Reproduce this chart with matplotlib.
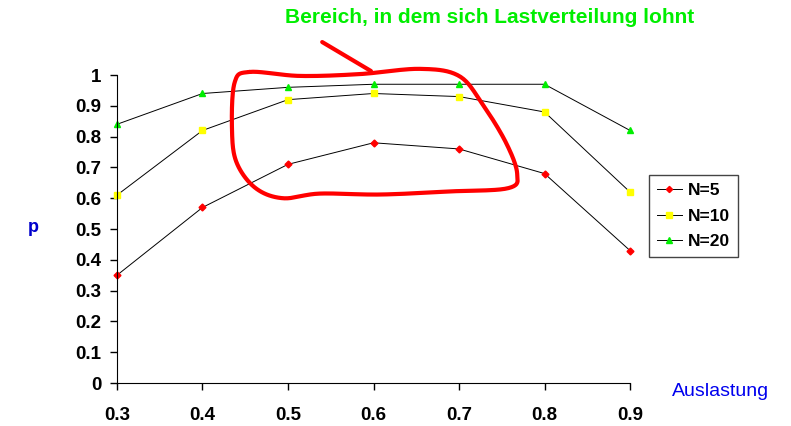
import numpy as np
import matplotlib.pyplot as plt

plt.rcParams['font.family'] = ['Liberation Sans', 'DejaVu Sans']

auslastung = [0.3, 0.4, 0.5, 0.6, 0.7, 0.8, 0.9]
p_n5 = [0.35, 0.57, 0.71, 0.78, 0.76, 0.68, 0.43]
p_n10 = [0.61, 0.82, 0.92, 0.94, 0.93, 0.88, 0.62]
p_n20 = [0.84, 0.94, 0.96, 0.97, 0.97, 0.97, 0.82]

# freehand loop around the region (annotation, data coords, closed)
loop_x = [0.455, 0.514, 0.584, 0.654, 0.700, 0.728, 0.755, 0.768, 0.758,
          0.689, 0.608, 0.537, 0.494, 0.462, 0.440, 0.4345, 0.4375]
loop_y = [1.010, 0.997, 1.003, 1.020, 0.997, 0.903, 0.780, 0.680, 0.633,
          0.622, 0.612, 0.615, 0.600, 0.633, 0.715, 0.821, 0.975]
pointer_x = [0.540, 0.597]
pointer_y = [1.107, 1.013]


def smooth_closed(xs, ys, n=20):
    # catmull-rom through the points, closed
    pts = np.column_stack([xs, ys])
    m = len(pts)
    out = []
    for i in range(m):
        p0, p1, p2, p3 = pts[i - 1], pts[i], pts[(i + 1) % m], pts[(i + 2) % m]
        t = np.linspace(0, 1, n, endpoint=False)[:, None]
        seg = 0.5 * ((2 * p1) + (-p0 + p2) * t
                     + (2 * p0 - 5 * p1 + 4 * p2 - p3) * t ** 2
                     + (-p0 + 3 * p1 - 3 * p2 + p3) * t ** 3)
        out.append(seg)
    out = np.vstack(out + [out[0][:1]])
    return out[:, 0], out[:, 1]


fig = plt.figure(figsize=(7.91, 4.26), dpi=100)
ax = fig.add_axes([0.1479, 0.1009, 0.6486, 0.7230])

ax.plot(auslastung, p_n5, color="black", lw=0.7, marker="D", ms=3.5,
        mfc="red", mec="red", label="N=5", clip_on=False)
ax.plot(auslastung, p_n10, color="black", lw=0.7, marker="s", ms=4.5,
        mfc="#ffff00", mec="#ffff00", label="N=10", clip_on=False)
ax.plot(auslastung, p_n20, color="black", lw=0.7, marker="^", ms=5,
        mfc="#00ee00", mec="#00ee00", label="N=20", clip_on=False)

sx, sy = smooth_closed(loop_x, loop_y)
ax.plot(sx, sy, color="red", lw=3, clip_on=False,
        solid_capstyle="round", solid_joinstyle="round")
ax.plot(pointer_x, pointer_y, color="red", lw=3, clip_on=False,
        solid_capstyle="round")

ax.set_xlim(0.3, 0.9)
ax.set_ylim(0, 1)
ax.set_xticks(auslastung)
ax.set_xticklabels(["0.3", "0.4", "0.5", "0.6", "0.7", "0.8", "0.9"])
ax.set_yticks(np.arange(0, 1.01, 0.1))
ax.set_yticklabels(["0", "0.1", "0.2", "0.3", "0.4", "0.5", "0.6",
                    "0.7", "0.8", "0.9", "1"])
for lab in ax.get_xticklabels() + ax.get_yticklabels():
    lab.set_fontweight("bold")
ax.tick_params(axis="x", length=5, width=1, pad=12, labelsize=13.5)
ax.tick_params(axis="y", length=5, width=1, pad=6, labelsize=13.5)

ax.spines["top"].set_visible(False)
ax.spines["right"].set_visible(False)

fig.text(0.042, 0.465, "p", color="#0000cc", fontsize=13,
         fontweight="bold", ha="center", va="center")
fig.text(0.911, 0.080, "Auslastung", color="#0000ee", fontsize=14,
         ha="center", va="center")
fig.text(0.619, 0.958, "Bereich, in dem sich Lastverteilung lohnt",
         color="#00ee00", fontsize=15, fontweight="bold",
         ha="center", va="center")

leg = ax.legend(loc="upper left", bbox_to_anchor=(0.821, 0.589),
                bbox_transform=fig.transFigure, borderaxespad=0,
                fancybox=False, framealpha=1, edgecolor="#444444",
                prop={"weight": "bold", "size": 12.5}, handlelength=1.4,
                handletextpad=0.35, labelspacing=0.6, borderpad=0.45,
                markerscale=0.9)
leg.get_frame().set_linewidth(1)

fig.savefig("out.png", dpi=100)
